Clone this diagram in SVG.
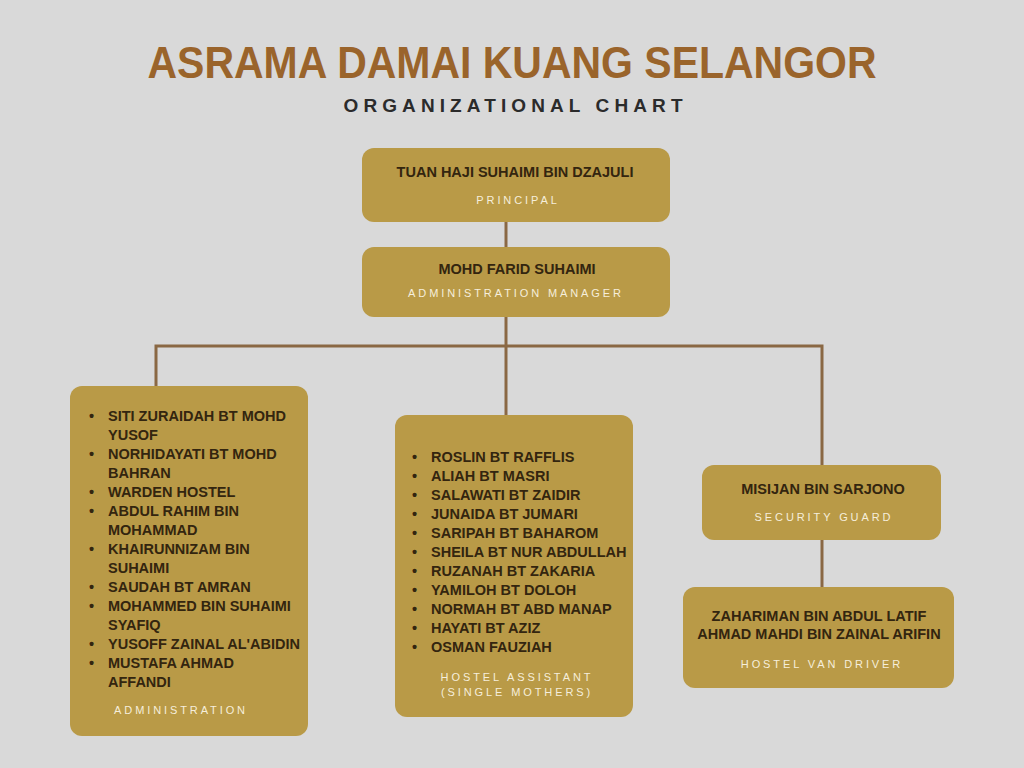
<svg xmlns="http://www.w3.org/2000/svg" width="1024" height="768" viewBox="0 0 1024 768">
<style>
.bg{fill:#d9d9d9}
.box{fill:#b99a47}
.name{font-family:"Liberation Sans",Arial,sans-serif;font-weight:bold;font-size:14.5px;fill:#33250f}
.c{text-anchor:middle}
.role{font-family:"Liberation Sans",Arial,sans-serif;font-size:11px;fill:#f6eedb;letter-spacing:2.9px;text-anchor:middle}
.bul{font-family:"Liberation Sans",Arial,sans-serif;font-weight:bold;font-size:14.5px;fill:#33250f}
.conn{stroke:#8a6844;stroke-width:3;fill:none}
.title{font-family:"Liberation Sans",Arial,sans-serif;font-weight:bold;font-size:45px;fill:#9a642b;text-anchor:middle}
.sub{font-family:"Liberation Sans",Arial,sans-serif;font-weight:bold;font-size:19px;fill:#2b2b2b;text-anchor:middle}
</style>
<rect class="bg" x="0" y="0" width="1024" height="768"/>
<g id="title">
<text class="title" x="512" y="78" textLength="729" lengthAdjust="spacingAndGlyphs">ASRAMA DAMAI KUANG SELANGOR</text>
<text class="sub" x="513" y="112" textLength="339" lengthAdjust="spacing">ORGANIZATIONAL CHART</text>
</g>
<g id="connectors">
<line class="conn" x1="506" y1="222" x2="506" y2="247"/>
<line class="conn" x1="506" y1="317" x2="506" y2="415"/>
<polyline class="conn" points="156,386 156,346 822,346 822,465"/>
<line class="conn" x1="822" y1="540" x2="822" y2="587"/>
</g>
<g id="principal">
<rect class="box" x="362" y="148" width="308" height="74" rx="12"/>
<text class="name c" x="515" y="177">TUAN HAJI SUHAIMI BIN DZAJULI</text>
<text class="role" x="518" y="204">PRINCIPAL</text>
</g>
<g id="admin-manager">
<rect class="box" x="362" y="247" width="308" height="70" rx="12"/>
<text class="name c" x="517" y="274">MOHD FARID SUHAIMI</text>
<text class="role" x="516" y="297">ADMINISTRATION MANAGER</text>
</g>
<g id="administration">
<rect class="box" x="70" y="386" width="238" height="350" rx="12"/>
<g class="bul">
<text x="89" y="421">•</text><text x="108" y="421">SITI ZURAIDAH BT MOHD</text>
<text x="108" y="440">YUSOF</text>
<text x="89" y="459">•</text><text x="108" y="459">NORHIDAYATI BT MOHD</text>
<text x="108" y="478">BAHRAN</text>
<text x="89" y="497">•</text><text x="108" y="497">WARDEN HOSTEL</text>
<text x="89" y="516">•</text><text x="108" y="516">ABDUL RAHIM BIN</text>
<text x="108" y="535">MOHAMMAD</text>
<text x="89" y="554">•</text><text x="108" y="554">KHAIRUNNIZAM BIN</text>
<text x="108" y="573">SUHAIMI</text>
<text x="89" y="592">•</text><text x="108" y="592">SAUDAH BT AMRAN</text>
<text x="89" y="611">•</text><text x="108" y="611">MOHAMMED BIN SUHAIMI</text>
<text x="108" y="630">SYAFIQ</text>
<text x="89" y="649">•</text><text x="108" y="649">YUSOFF ZAINAL AL'ABIDIN</text>
<text x="89" y="668">•</text><text x="108" y="668">MUSTAFA AHMAD</text>
<text x="108" y="687">AFFANDI</text>
</g>
<text class="role" x="181" y="714">ADMINISTRATION</text>
</g>
<g id="hostel-assistant">
<rect class="box" x="395" y="415" width="238" height="302" rx="12"/>
<g class="bul">
<text x="412" y="462">•</text><text x="431" y="462">ROSLIN BT RAFFLIS</text>
<text x="412" y="481">•</text><text x="431" y="481">ALIAH BT MASRI</text>
<text x="412" y="500">•</text><text x="431" y="500">SALAWATI BT ZAIDIR</text>
<text x="412" y="519">•</text><text x="431" y="519">JUNAIDA BT JUMARI</text>
<text x="412" y="538">•</text><text x="431" y="538">SARIPAH BT BAHAROM</text>
<text x="412" y="557">•</text><text x="431" y="557">SHEILA BT NUR ABDULLAH</text>
<text x="412" y="576">•</text><text x="431" y="576">RUZANAH BT ZAKARIA</text>
<text x="412" y="595">•</text><text x="431" y="595">YAMILOH BT DOLOH</text>
<text x="412" y="614">•</text><text x="431" y="614">NORMAH BT ABD MANAP</text>
<text x="412" y="633">•</text><text x="431" y="633">HAYATI BT AZIZ</text>
<text x="412" y="652">•</text><text x="431" y="652">OSMAN FAUZIAH</text>
</g>
<text class="role" x="517" y="681">HOSTEL ASSISTANT</text>
<text class="role" x="517" y="696">(SINGLE MOTHERS)</text>
</g>
<g id="security-guard">
<rect class="box" x="702" y="465" width="239" height="75" rx="12"/>
<text class="name c" x="823" y="494">MISIJAN BIN SARJONO</text>
<text class="role" x="824" y="521">SECURITY GUARD</text>
</g>
<g id="van-driver">
<rect class="box" x="683" y="587" width="271" height="101" rx="12"/>
<text class="name c" x="819" y="621">ZAHARIMAN BIN ABDUL LATIF</text>
<text class="name c" x="819" y="639">AHMAD MAHDI BIN ZAINAL ARIFIN</text>
<text class="role" x="822" y="668">HOSTEL VAN DRIVER</text>
</g>
</svg>
